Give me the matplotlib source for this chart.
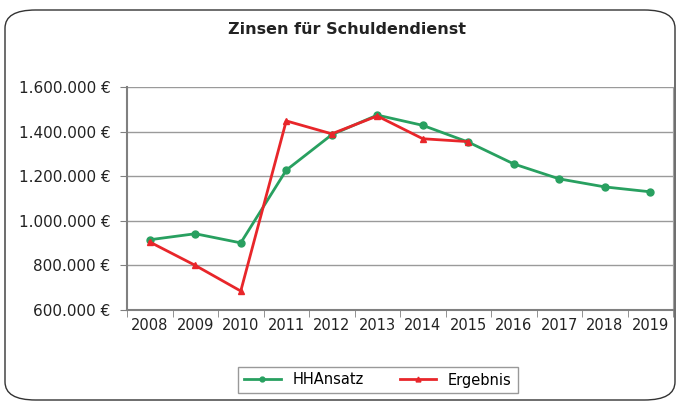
import matplotlib.pyplot as plt
from matplotlib.patches import FancyBboxPatch
from matplotlib.ticker import FuncFormatter

# the reference text is wide, DejaVu fits its extent better than Arial
plt.rcParams['font.family'] = ['DejaVu Sans']

years = ['2008', '2009', '2010', '2011', '2012', '2013',
         '2014', '2015', '2016', '2017', '2018', '2019']
hh_ansatz = [915000, 942000, 901000, 1227000, 1386000, 1474000,
             1428000, 1353000, 1255000, 1188000, 1152000, 1130000]
ergebnis = [905000, 800000, 685000, 1448000, 1390000, 1470000,
            1368000, 1355000]

GREEN = '#28a060'
RED = '#e8262a'

fig = plt.figure(figsize=(6.8, 4.03), dpi=100)
ax = fig.add_axes([127 / 680, 1 - 310 / 403, 546 / 680, 223 / 403])

# rounded frame around the whole chart
frame = FancyBboxPatch((5 / 680, 3 / 403), 670 / 680, 390 / 403,
                       boxstyle='round,pad=0,rounding_size=0.045',
                       transform=fig.transFigure, fill=False,
                       edgecolor='#333333', linewidth=1.0)
fig.patches.append(frame)

x = list(range(len(years)))
ax.plot(x, hh_ansatz, color=GREEN, lw=2, marker='o', ms=5, label='HHAnsatz')
ax.plot(x[:len(ergebnis)], ergebnis, color=RED, lw=2, marker='^', ms=5,
        label='Ergebnis')

ax.set_xlim(-0.5, len(years) - 0.5)
ax.set_ylim(600000, 1600000)
ax.set_yticks(range(600000, 1600001, 200000))
ax.yaxis.set_major_formatter(
    FuncFormatter(lambda v, p: f'{int(v):,} €'.replace(',', '.')))
ax.set_xticks(x)
ax.set_xticklabels(years)
ax.set_xticks([i - 0.5 for i in range(len(years) + 1)], minor=True)
ax.tick_params(axis='x', which='major', length=0, pad=6, labelsize=10.5,
               labelcolor='#222222')
ax.tick_params(axis='x', which='minor', length=5, color='#808080')
ax.tick_params(axis='y', length=5, color='#808080', labelsize=11, pad=7,
               labelcolor='#222222')

ax.grid(axis='y', color='#9a9a9a', lw=1)
ax.set_axisbelow(True)
for side in ['left', 'bottom']:
    ax.spines[side].set_color('#808080')
    ax.spines[side].set_linewidth(1.5)
ax.spines['right'].set_color('#a0a0a0')
ax.spines['top'].set_visible(False)

fig.text(0.51, 1 - 30 / 403, 'Zinsen für Schuldendienst', ha='center',
         va='center', fontsize=11.5, fontweight='bold', color='#222222')

fig.legend(loc='center', bbox_to_anchor=(378 / 680, 1 - 380 / 403), ncol=2,
           frameon=True, fancybox=False, edgecolor='#808080', fontsize=10.5,
           handlelength=2.5, markerscale=0.7, columnspacing=2.5,
           borderpad=0.4)

fig.savefig('out.png', dpi=100)
